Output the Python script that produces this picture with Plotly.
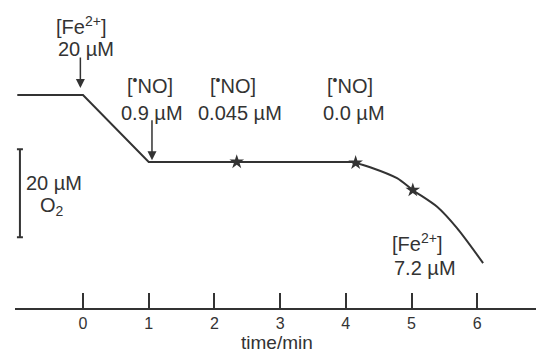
import plotly.graph_objects as go

# O2 trace (time in min, O2 in µM on an arbitrary offset)
t_lin = [-1.0, 0.0, 1.0, 4.1]
o2_lin = [48.4, 48.4, 33.2, 33.2]
t_curve = [4.1, 4.37, 4.78, 5.02, 5.39, 5.69, 6.09]
o2_curve = [33.2, 32.0, 29.5, 26.8, 23.0, 18.2, 10.2]

# asterisk markers
t_star = [2.34, 4.15, 5.02]
o2_star = [33.2, 33.0, 26.8]

# scale bar: 20 µM O2
bar_t = [-0.96]
bar_mid = [26.1]
bar_half = [10.0]

tick_vals = [0, 1, 2, 3, 4, 5, 6]
tick_text = ["0", "1", "2", "3", "4", "5", "6"]
x_title = "time/min"

# labels: (text, t, o2)
labels = [
    ("[Fe<sup>2+</sup>]", -0.03, 64.3),
    ("20 µM", 0.05, 58.9),
    ("[<sup>•</sup>NO]", 1.02, 50.7),
    ("0.9 µM", 1.05, 44.3),
    ("[<sup>•</sup>NO]", 2.28, 50.7),
    ("0.045 µM", 2.39, 44.3),
    ("[<sup>•</sup>NO]", 4.06, 50.7),
    ("0.0 µM", 4.12, 44.3),
    ("[Fe<sup>2+</sup>]", 5.08, 14.8),
    ("7.2 µM", 5.21, 9.1),
    ("20 µM", -0.44, 28.4),
    ("O<sub>2</sub>", -0.47, 23.0),
]
# arrows: (t, tip o2, tail o2)
arrows = [(-0.04, 50.0, 57.3), (1.05, 33.6, 43.0)]

INK = "#333333"
FONT = "Liberation Sans, Arial, sans-serif"

fig = go.Figure()
fig.add_trace(go.Scatter(x=t_lin, y=o2_lin, mode="lines",
                         line=dict(color=INK, width=2), hoverinfo="skip"))
fig.add_trace(go.Scatter(x=t_curve, y=o2_curve, mode="lines",
                         line=dict(color=INK, width=2, shape="spline", smoothing=0.8),
                         hoverinfo="skip"))
fig.add_trace(go.Scatter(x=t_star, y=o2_star, mode="markers",
                         marker=dict(symbol="star", size=11, color=INK),
                         hoverinfo="skip"))
fig.add_trace(go.Scatter(x=bar_t, y=bar_mid, mode="markers",
                         marker=dict(size=1, color="rgba(0,0,0,0)"),
                         error_y=dict(type="data", array=bar_half, color=INK,
                                      thickness=2, width=3),
                         hoverinfo="skip"))

for txt, x, y in labels:
    fig.add_annotation(x=x, y=y, text=txt, showarrow=False,
                       font=dict(family=FONT, size=20, color="#333333"),
                       xanchor="center", yanchor="middle")
for x, tip, tail in arrows:
    fig.add_annotation(x=x, y=tip, ax=x, ay=tail, axref="x", ayref="y",
                       text="", showarrow=True, arrowhead=2, arrowsize=1.2,
                       arrowwidth=1.5, arrowcolor=INK)

# axis title placed below the tick labels
fig.add_annotation(x=2.96, xref="x", y=-0.112, yref="paper", text=x_title,
                   showarrow=False, xanchor="center", yanchor="middle",
                   borderpad=0,
                   font=dict(family=FONT, size=19, color="#333333"))

fig.update_layout(
    width=536, height=353,
    margin=dict(l=15, r=0, t=0, b=45),
    paper_bgcolor="white", plot_bgcolor="white",
    showlegend=False,
    xaxis=dict(range=[-1.035, 6.895], tickvals=tick_vals, ticktext=tick_text,
               ticks="inside", ticklen=15, tickwidth=1.5, tickcolor=INK,
               showline=True, linecolor=INK, linewidth=2,
               showgrid=False, zeroline=False, automargin=False,
               tickfont=dict(family=FONT, size=16, color="#333333")),
    yaxis=dict(range=[0, 70], visible=False),
)

fig.write_html("out.html")
